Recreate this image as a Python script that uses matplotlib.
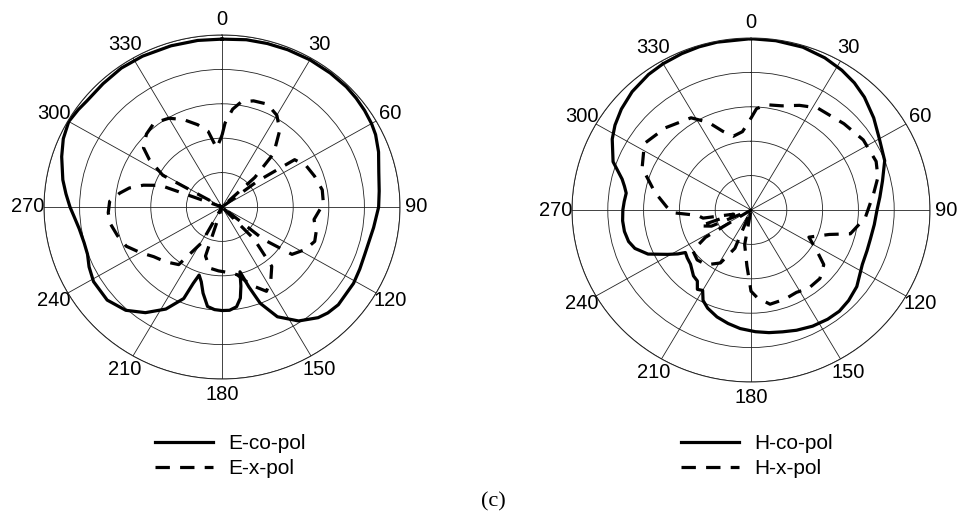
import numpy as np
import matplotlib
matplotlib.use("Agg")
import matplotlib.pyplot as plt

# radiation patterns, angle (deg, clockwise from top) vs level (dB, centre = -50 dB)
e_co_ang = [0, 8, 15, 22, 30, 38, 45, 50, 55, 60, 64, 70, 77, 84, 90, 98, 109, 115, 121, 131, 136,
            140, 147, 154, 159, 162, 165, 167, 169, 172, 176, 180, 184, 188, 192, 195, 198, 200, 202,
            208, 215, 222, 230, 239, 245, 250, 255, 261, 266, 270, 275, 280, 288, 294, 300, 305, 309,
            317, 325, 333, 343, 352, 360]
e_co_db = [-1.2, -0.9, -0.8, -0.7, -0.6, -0.6, -0.6, -0.8, -1.1, -1.5, -2.0, -3.2, -4.8, -5.6, -6,
           -7, -7.6, -7.3, -6.9, -6.7, -7.2, -8.0, -10.5, -14.5, -20.0, -25.6, -30.5, -26.4, -23,
           -20.7, -19.9, -19.9, -20.1, -20.8, -24.4, -27.5, -29.2, -26.4, -21.3, -16.4, -12.5, -9.6,
           -7.9, -7.9, -8.8, -9.8, -9.9, -9.4, -8.4, -7.3, -6, -4.6, -2.65, -1.2, -0.3, -0.7, -1.1,
           -1.0, -0.7, -0.8, -1.0, -1.1, -1.2]

e_x_ang = [0, 2, 6, 10, 16, 23, 30, 36, 43, 47, 50, 53, 56, 63, 71, 80, 88, 98, 105, 111, 118, 125,
           129, 132, 136, 141, 147, 153, 160, 168, 175, 183, 191, 198, 204, 209, 216, 225, 233, 240,
           247, 254, 261, 267, 273, 278, 282, 286, 290, 295, 299, 304, 308, 315, 322, 330, 337, 344,
           350, 355, 360]
e_x_db = [-29.2, -25.6, -21.4, -19.0, -17.9, -17.5, -19.2, -22.4, -28.7, -37.4, -50, -37.6, -25.4,
          -23.5, -22.5, -21.4, -21.5, -23.9, -22.6, -22.1, -23.6, -26, -35, -50, -37, -27.8, -24.8,
          -22.5, -25.8, -29.9, -30.9, -31.4, -31.9, -35, -50, -38, -29.3, -27.5, -26, -23.5, -20.8,
          -19.5, -18.3, -18, -18.4, -21, -23.4, -27, -31.6, -50, -31, -25.4, -22, -20, -19, -20.2,
          -22.4, -25.1, -27.7, -32.8, -29.2]

h_co_ang = [0, 8, 17, 25, 32, 38, 44, 52, 60, 69, 77, 84, 90, 97, 104, 110, 117, 127, 134, 140, 146,
            153, 160, 166, 172, 178, 185, 191, 197, 203, 207, 210, 213, 216, 220, 227, 232, 236, 238,
            241, 246, 251, 255, 260, 265, 270, 274, 278, 281, 284, 290, 298, 303, 309, 316, 324, 330,
            337, 343, 349, 360]
h_co_db = [-0.2, -0.3, -0.5, -1.2, -2.1, -3.1, -4.4, -6.5, -8.6, -10, -12.3, -13.8, -14.8, -15.3,
           -15.6, -15.5, -15.1, -13, -12.1, -11.6, -11.7, -12.1, -12.8, -13.5, -14, -14.6, -15.4,
           -16.4, -17.5, -19, -20.5, -23, -22.5, -24.5, -25, -26.9, -27.4, -27.9, -25.9, -23.4,
           -18.5, -15.7, -14.6, -14.1, -14, -14.2, -14.5, -14.8, -14, -12.9, -9, -6.1, -4.7, -3.4,
           -2.2, -1.3, -0.9, -0.6, -0.4, -0.3, -0.2]

h_x_ang = [0, 3, 8, 16, 24, 32, 46, 57, 68, 75, 82, 94, 104, 108, 116, 123, 128, 136, 145, 152, 160,
           169, 176, 180, 184, 190, 196, 202, 209, 218, 226, 234, 238, 242, 247, 252, 256, 260, 264,
           268, 272, 281, 292, 303, 315, 328, 335, 341, 347, 354, 358, 360]
h_x_db = [-23.3, -20.5, -19.1, -18.5, -16.7, -15, -13.9, -12.6, -12.3, -13.3, -15.4, -18, -21.4, -27,
          -32, -28, -24.2, -22.3, -22.1, -22.9, -22.4, -22.1, -24.4, -26.4, -33.7, -39.8, -50, -38,
          -32.4, -29.8, -29.1, -29.9, -35, -50, -38, -35, -45, -36.4, -35, -28, -26.5, -22.6, -17.2,
          -14.5, -16.2, -18.4, -21.9, -25.8, -28, -27.1, -24.8, -23.3]

theta_ticks = list(range(0, 360, 30))
r_rings = [-40, -30, -20, -10, 0]

plt.rcParams["font.family"] = ["Liberation Sans", "DejaVu Sans"]

fig = plt.figure(figsize=(9.62, 5.22), dpi=100)
# the scanned plots are slightly squashed vertically -> elliptical axes
axes_rects = [(44 / 962, 143 / 522, 356 / 962, 344 / 522),
              (572 / 962, 140 / 522, 358 / 962, 344 / 522)]
panels = [
    (e_co_ang, e_co_db, e_x_ang, e_x_db, "E-co-pol", "E-x-pol", (155 / 962, 1 - 434 / 522)),
    (h_co_ang, h_co_db, h_x_ang, h_x_db, "H-co-pol", "H-x-pol", (681 / 962, 1 - 434 / 522)),
]

for rect, (ca, cd, xa, xd, lco, lx, lpos) in zip(axes_rects, panels):
    ax = fig.add_axes(rect, projection="polar")
    ax.set_aspect("auto")
    ax.set_theta_zero_location("N")
    ax.set_theta_direction(-1)
    l1, = ax.plot(np.deg2rad(ca), cd, color="black", lw=2.3, solid_joinstyle="round")
    l2, = ax.plot(np.deg2rad(xa), xd, color="black", lw=2.3, dashes=(4.5, 3.2))
    ax.set_rlim(-50, 0)
    ax.set_rgrids(r_rings, labels=[])
    ax.set_thetagrids(theta_ticks, [str(t) for t in theta_ticks])
    ax.tick_params(axis="x", labelsize=14.5, pad=1)
    ax.grid(True, color="#222222", lw=0.6)
    ax.spines["polar"].set_color("#222222")
    ax.spines["polar"].set_linewidth(0.7)
    ax.legend([l1, l2], [lco, lx], loc="upper left", bbox_to_anchor=lpos,
              bbox_transform=fig.transFigure, frameon=False, fontsize=15,
              borderpad=0, borderaxespad=0, handlelength=2.8, handletextpad=0.7,
              labelspacing=0.3)

fig.text(493 / 962, 1 - 502 / 522, "(c)", family=["Liberation Serif", "DejaVu Serif"],
         fontsize=16, ha="center", va="center")

fig.savefig("out.png", dpi=100)
